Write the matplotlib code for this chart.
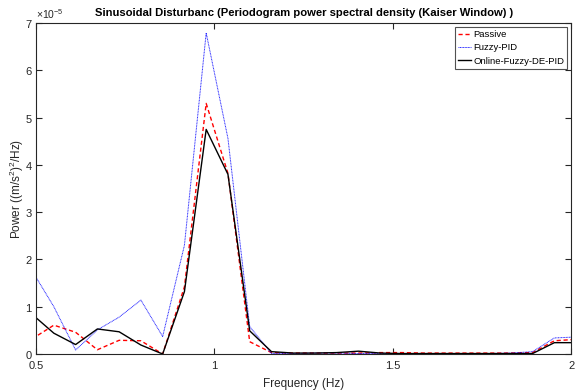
import matplotlib

matplotlib.use("Agg")

import matplotlib.pyplot as plt
from matplotlib.ticker import ScalarFormatter

# frequency bins (Hz)
freq = [0.489, 0.550, 0.611, 0.672, 0.733, 0.794, 0.855, 0.916, 0.977, 1.038,
        1.099, 1.160, 1.221, 1.282, 1.343, 1.404, 1.465, 1.526, 1.587, 1.648,
        1.709, 1.770, 1.831, 1.892, 1.953, 2.014]

# PSD values, units of 1e-5 (m/s^2)^2/Hz
passive = [0.32, 0.61, 0.46, 0.09, 0.29, 0.28, 0.0, 1.42, 5.30, 3.82,
           0.26, 0.03, 0.02, 0.02, 0.02, 0.02, 0.03, 0.03, 0.02, 0.02,
           0.02, 0.02, 0.02, 0.03, 0.28, 0.31]
fuzzy_pid = [1.76, 1.00, 0.085, 0.51, 0.78, 1.14, 0.37, 2.30, 6.79, 4.56,
             0.58, 0.01, 0.01, 0.02, 0.02, 0.01, 0.01, 0.01, 0.01, 0.01,
             0.01, 0.01, 0.02, 0.05, 0.34, 0.36]
online_fuzzy_de_pid = [0.84, 0.44, 0.20, 0.53, 0.47, 0.19, 0.0, 1.32, 4.75, 3.80,
                       0.49, 0.05, 0.02, 0.02, 0.03, 0.06, 0.02, 0.01, 0.01, 0.01,
                       0.01, 0.01, 0.01, 0.01, 0.24, 0.24]

x_ticks = [0.5, 1, 1.5, 2]
y_ticks = [0, 1, 2, 3, 4, 5, 6, 7]

plt.rcParams["font.family"] = ["Liberation Sans", "DejaVu Sans"]
plt.rcParams["mathtext.fontset"] = "custom"
plt.rcParams["mathtext.rm"] = "Liberation Sans"
plt.rcParams["mathtext.it"] = "Liberation Sans:italic"

fig = plt.figure(figsize=(5.81, 3.91), dpi=100)
ax = fig.add_axes([0.062, 0.0946, 0.921, 0.8465])

scale = 1e-5
ax.plot(freq, [v * scale for v in passive], color="red", linestyle=(0, (3, 2)),
        linewidth=1.0, label="Passive")
ax.plot(freq, [v * scale for v in fuzzy_pid], color="blue", linestyle=(0, (1, 0.6)),
        linewidth=0.7, alpha=0.85, label="Fuzzy-PID")
ax.plot(freq, [v * scale for v in online_fuzzy_de_pid], color="black",
        linewidth=1.0, label="Online-Fuzzy-DE-PID")

ax.set_xlim(0.5, 2)
ax.set_ylim(0, 7e-5)
ax.set_xticks(x_ticks)
ax.set_xticklabels(["0.5", "1", "1.5", "2"])
ax.set_yticks([t * scale for t in y_ticks])

fmt = ScalarFormatter(useMathText=True)
fmt.set_powerlimits((-3, 3))
ax.yaxis.set_major_formatter(fmt)
ax.yaxis.get_offset_text().set_fontsize(7.5)
ax.yaxis.get_offset_text().set_color("#404040")

ax.tick_params(direction="in", top=True, right=True, length=4, width=0.8,
               labelsize=8, colors="#262626")
ax.tick_params(axis="x", pad=5)
ax.tick_params(axis="y", pad=2.5)
for side in ax.spines.values():
    side.set_linewidth(0.8)
    side.set_color("#262626")

ax.set_title("Sinusoidal Disturbanc (Periodogram power spectral density (Kaiser Window) )",
             fontsize=8.1, fontweight="bold", pad=5)
ax.set_xlabel("Frequency (Hz)", fontsize=8.5, color="#262626", labelpad=5)
ax.set_ylabel("Power ((m/s$^2$)$^2$/Hz)", fontsize=8.5, color="#262626")
ax.yaxis.set_label_coords(-0.019, 0.5)

leg = ax.legend(loc="upper right", fontsize=6.8, frameon=True, fancybox=False,
                handlelength=1.4, handletextpad=0.2, borderpad=0.35,
                labelspacing=0.45, borderaxespad=0.4)
leg.get_frame().set_edgecolor("#262626")
leg.get_frame().set_linewidth(0.8)

fig.savefig("out.png", dpi=100)
plt.close(fig)
